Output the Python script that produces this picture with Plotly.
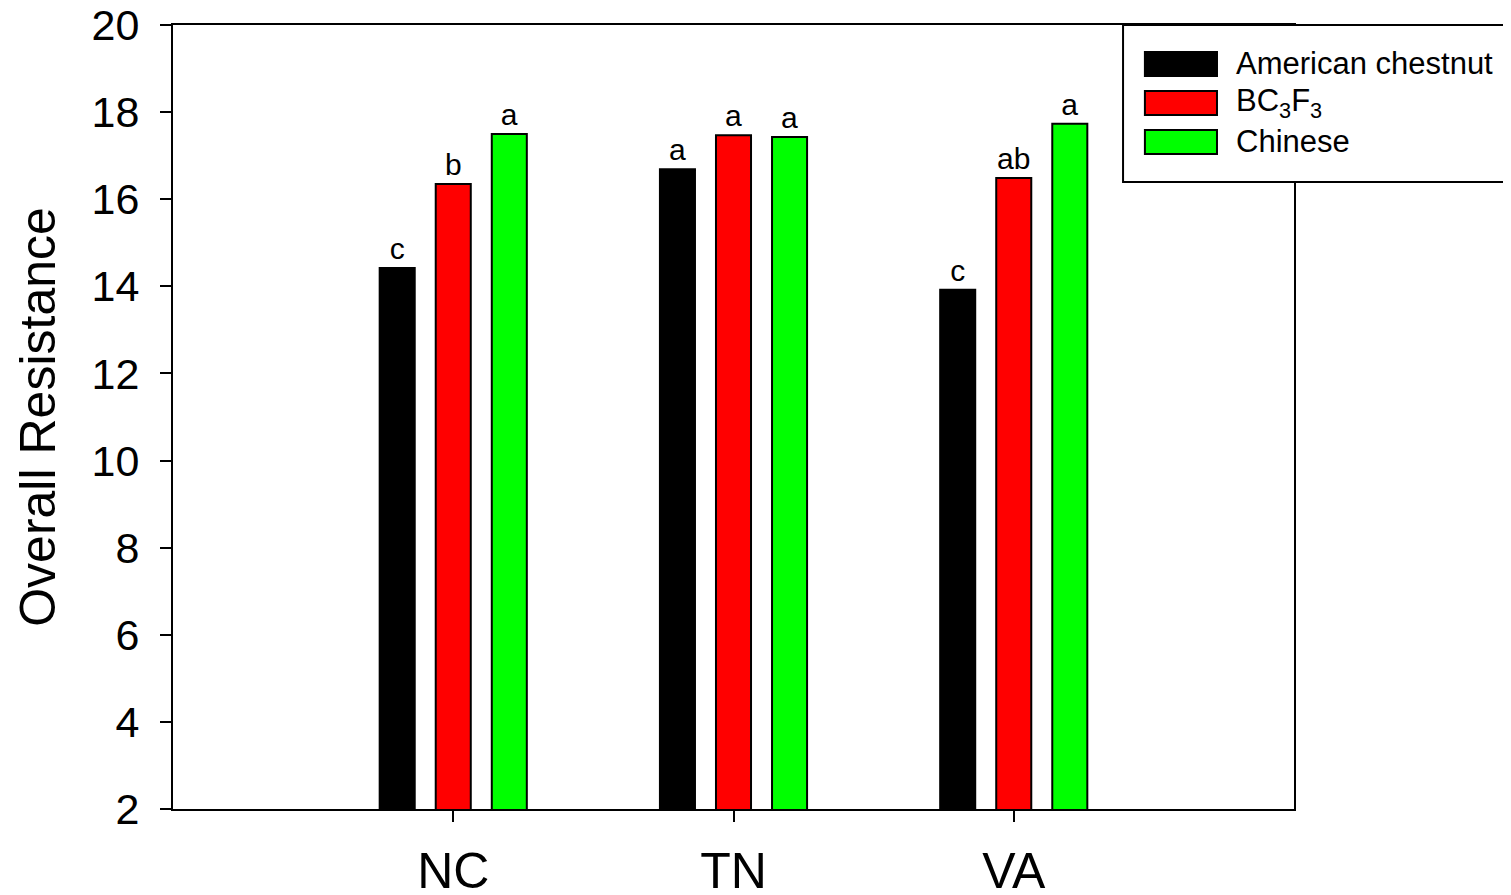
import plotly.graph_objects as go

sites = ["NC", "TN", "VA"]
series_names = ["American chestnut", "BC<sub>3</sub>F<sub>3</sub>", "Chinese"]
american = [14.42, 16.69, 13.92]
bc3f3 = [16.35, 17.47, 16.49]
chinese = [17.50, 17.43, 17.73]
american_letters = ["c", "a", "c"]
bc3f3_letters = ["b", "a", "ab"]
chinese_letters = ["a", "a", "a"]
y_ticks = [2, 4, 6, 8, 10, 12, 14, 16, 18, 20]

colors = ["#000000", "#ff0000", "#00ff00"]
values = [american, bc3f3, chinese]
letters = [american_letters, bc3f3_letters, chinese_letters]

FONT = "Liberation Sans, Arial, sans-serif"

fig = go.Figure()
for name, vals, lets, col in zip(series_names, values, letters, colors):
    fig.add_trace(go.Bar(
        x=sites, y=vals, name=name, base=0,
        marker=dict(color=col, line=dict(color="#000000", width=2)),
        text=lets, textposition="outside", cliponaxis=False,
        constraintext="none",
        textfont=dict(family=FONT, size=30, color="#000000"),
        showlegend=False,
    ))

# page body has an 8px margin, so the figure is shrunk/offset to land on the reference pixels
fig.update_layout(
    width=1503, height=887,
    margin=dict(l=165, r=217, t=17, b=86, pad=0, autoexpand=False),
    paper_bgcolor="white", plot_bgcolor="white",
    barmode="group", bargap=0.4, bargroupgap=0.375,
    font=dict(family=FONT, color="#000000"),
    showlegend=False,
)
fig.update_xaxes(
    type="category", range=[-1, 3], automargin=False,
    showline=True, linecolor="#000000", linewidth=2, mirror=True,
    ticks="outside", ticklen=11, tickwidth=1.5, tickcolor="#000000",
    tickfont=dict(family=FONT, size=50), ticklabelstandoff=6,
    ticklabeloverflow="allow",
    showgrid=False, zeroline=False,
)
fig.update_yaxes(
    range=[2, 20], tickvals=y_ticks, automargin=False,
    showline=True, linecolor="#000000", linewidth=2, mirror=True,
    ticks="outside", ticklen=11, tickwidth=2, tickcolor="#000000",
    tickfont=dict(family=FONT, size=43), ticklabelstandoff=12,
    ticklabeloverflow="allow",
    showgrid=False, zeroline=False,
    title=dict(text="Overall Resistance", font=dict(family=FONT, size=50), standoff=20),
)

# custom legend (SigmaPlot style box)
fig.add_shape(type="rect", xref="paper", yref="paper",
              x0=0.8475, x1=1.2, y0=0.7997, y1=1.0,
              line=dict(color="#000000", width=2), fillcolor="white", layer="above")
sw_y = [(0.935, 0.9656), (0.8852, 0.9158), (0.8355, 0.8661)]
txt_y = [0.9503, 0.9005, 0.8508]
for name, col, (y0, y1), ty in zip(series_names, colors, sw_y, txt_y):
    fig.add_shape(type="rect", xref="paper", yref="paper",
                  x0=0.867, x1=0.9313, y0=y0, y1=y1,
                  line=dict(color="#000000", width=2), fillcolor=col, layer="above")
    fig.add_annotation(xref="paper", yref="paper", x=0.9465, y=ty,
                       xanchor="left", yanchor="middle", showarrow=False,
                       text=name, font=dict(family=FONT, size=31, color="#000000"))

fig.write_html("out.html")
